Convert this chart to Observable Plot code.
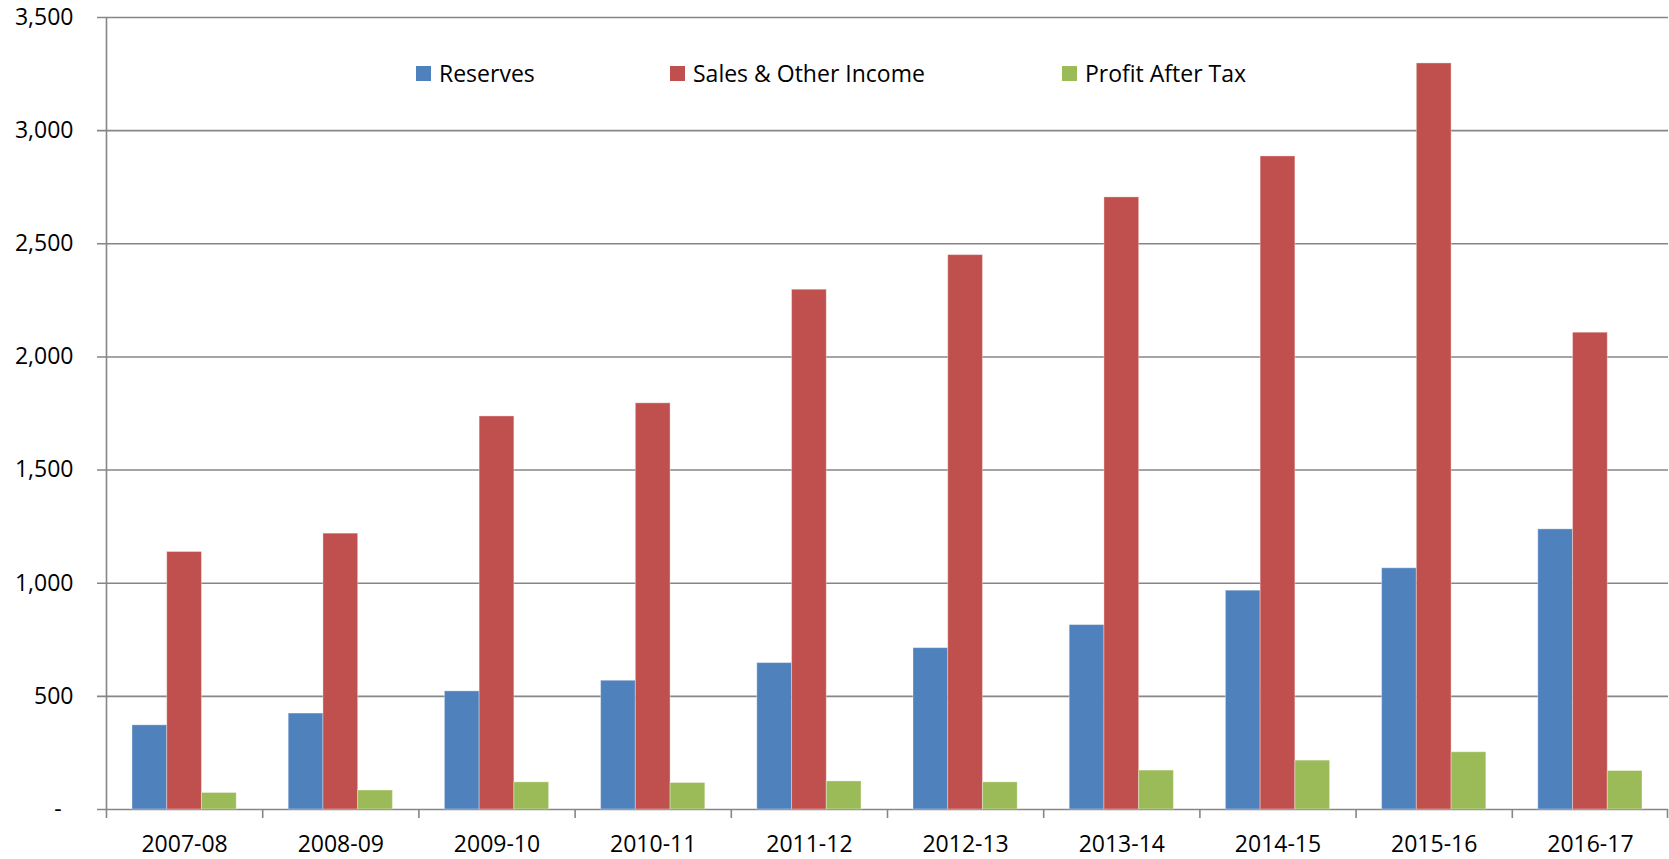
<!DOCTYPE html>
<html><head><meta charset="utf-8">
<script src="https://cdn.jsdelivr.net/npm/d3@7"></script>
<script src="https://cdn.jsdelivr.net/npm/@observablehq/plot@0.6"></script>
<style>
html,body{margin:0;padding:0;background:#fff;}
#wrap{position:relative;width:1669px;height:859px;font-family:"Open Sans",sans-serif;}
.item{position:absolute;top:58px;display:flex;align-items:center;font-size:23px;color:#000;white-space:nowrap;line-height:31px;}
.sw{width:15px;height:15px;margin-right:8px;flex:none;}
</style></head>
<body><div id="wrap"></div>
<script>
const years = ["2007-08","2008-09","2009-10","2010-11","2011-12","2012-13","2013-14","2014-15","2015-16","2016-17"];
const reserves = [372, 424, 522, 569, 647, 713, 815, 967, 1066, 1238];
const sales = [1138, 1219, 1737, 1795, 2297, 2450, 2705, 2886, 3297, 2107];
const profit = [73, 84, 120, 117, 124, 120, 172, 216, 253, 170];
const seriesNames = ["Reserves", "Sales & Other Income", "Profit After Tax"];
const seriesColors = ["#4F81BD", "#C0504D", "#9BBB59"];
const yTicks = [0, 500, 1000, 1500, 2000, 2500, 3000, 3500];

const W = 1669, H = 859, ml = 106, mr = 1, mt = 17, mb = 50;
const bw = (W - ml - mr) / years.length;
const groupPad = 26;
const barW = (bw - 2 * groupPad) / 3;
const plotH = H - mt - mb;
const tickLen = 9;
const gray = "#868686";

const seriesValues = [reserves, sales, profit];
const rows = seriesValues.map(vals => years.map((y, i) => ({year: y, value: vals[i]})));

const barMarks = rows.map((data, k) => Plot.barY(data, {
  x: "year", y: "value",
  fill: seriesColors[k],
  stroke: "white", strokeOpacity: 0.35, strokeWidth: 1,
  insetLeft: groupPad + k * barW,
  insetRight: bw - groupPad - (k + 1) * barW
}));

const chart = Plot.plot({
  width: W, height: H,
  marginLeft: ml, marginRight: mr, marginTop: mt, marginBottom: mb,
  style: {fontFamily: "Open Sans", fontSize: "23px", color: "black", background: "white"},
  x: {domain: years, padding: 0, round: false, axis: null},
  y: {domain: [0, 3500], axis: null},
  marks: [
    Plot.ruleY(yTicks, {y: d => d, stroke: gray, strokeWidth: 1.6, insetLeft: -tickLen}),
    ...barMarks,
    // left axis line
    Plot.ruleX([years[0]], {x: d => d, dx: -bw / 2, stroke: gray, strokeWidth: 1.6, insetBottom: -tickLen}),
    // category boundary ticks
    Plot.ruleX(years.slice(1), {x: d => d, dx: -bw / 2, stroke: gray, strokeWidth: 1.6, insetTop: plotH, insetBottom: -tickLen}),
    Plot.ruleX([years[years.length - 1]], {x: d => d, dx: bw / 2 - 1, stroke: gray, strokeWidth: 1.6, insetTop: plotH, insetBottom: -tickLen}),
    Plot.axisY({ticks: yTicks, tickSize: 0, tickPadding: 33, fontSize: 23, label: null,
      tickFormat: d => d === 0 ? "-\u00a0\u00a0" : d3.format(",")(d)}),
    Plot.axisX({tickSize: 0, tickPadding: 26, fontSize: 23, label: null})
  ]
});

const wrap = document.getElementById("wrap");
wrap.appendChild(chart);

const legendLefts = [416, 670, 1062];
seriesNames.forEach((name, k) => {
  const item = document.createElement("div");
  item.className = "item";
  item.style.left = legendLefts[k] + "px";
  const sw = document.createElement("span");
  sw.className = "sw";
  sw.style.background = seriesColors[k];
  const t = document.createElement("span");
  t.textContent = name;
  item.appendChild(sw);
  item.appendChild(t);
  wrap.appendChild(item);
});
</script>
</body></html>
